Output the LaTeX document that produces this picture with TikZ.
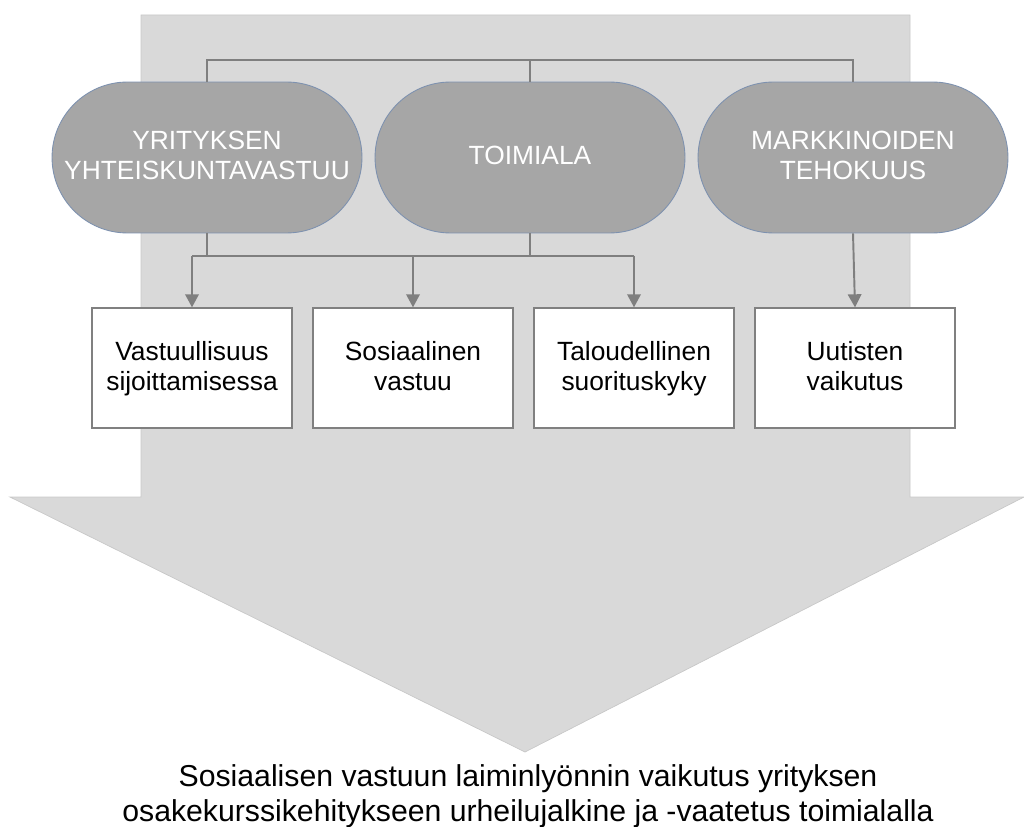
\documentclass[tikz,border=0pt]{standalone}
\usepackage{fontspec}
\setmainfont{Liberation Sans}
\usetikzlibrary{positioning, arrows.meta, shapes.misc}
\definecolor{bigarrowfill}{RGB}{217, 217, 217}
\definecolor{bigarrowedge}{RGB}{200, 200, 200}
\definecolor{topicfill}{RGB}{166, 166, 166}
\definecolor{topicedge}{RGB}{125, 145, 175}
\definecolor{linkcolor}{RGB}{127, 127, 127}
\definecolor{boxedge}{RGB}{128, 128, 128}
\newcommand{\rowstrut}{\rule[-3.2pt]{0pt}{14.6pt}}

\begin{document}
\begin{tikzpicture}[
    x=0.02cm, y=-0.02cm,
    topic/.style={rounded rectangle, draw=topicedge, fill=topicfill, line width=0.5pt,
        minimum width=6.2cm, minimum height=3.02cm, inner sep=0pt, align=center,
        text=white, font=\fontsize{15}{17}\selectfont},
    factor/.style={rectangle, draw=boxedge, fill=white, line width=0.8pt,
        minimum width=4.0cm, minimum height=2.4cm, inner sep=0pt, align=center,
        font=\fontsize{15}{17}\selectfont},
    link/.style={linkcolor, line width=1.1pt},
    arrow/.style={link, -{Triangle[width=0.27cm, length=0.26cm]}},
    caption/.style={align=center, font=\fontsize{17.2}{20}\selectfont},
]

\useasboundingbox (0,0) rectangle (1024,827);

% ======= BIG ARROW =======
\filldraw[fill=bigarrowfill, draw=bigarrowedge, line width=0.4pt]
    (141,15) -- (910,15) -- (910,497) -- (1024,497) -- (525,752)
    -- (10,497) -- (141,497) -- cycle;

% ======= TOPICS =======
\node[topic] (csr) at (207,157.5) {\rowstrut YRITYKSEN\\\rowstrut YHTEISKUNTAVASTUU};
\node[topic] (ind) at (530,157.5) {\rowstrut TOIMIALA};
\node[topic] (mkt) at (853,157.5) {\rowstrut MARKKINOIDEN\\\rowstrut TEHOKUUS};

% ======= FACTORS =======
\node[factor] (f1) at (192,368) {\rowstrut Vastuullisuus\\\rowstrut sijoittamisessa};
\node[factor] (f2) at (413,368) {\rowstrut Sosiaalinen\\\rowstrut vastuu};
\node[factor] (f3) at (634,368) {\rowstrut Taloudellinen\\\rowstrut suorituskyky};
\node[factor] (f4) at (855,368) {\rowstrut Uutisten\\\rowstrut vaikutus};

% ======= CONNECTIONS =======
% Top bus
\coordinate (top-bus) at (530,60);
\draw[link] (csr.north) |- (top-bus) -| (mkt.north);
\draw[link] (ind.north) -- (top-bus);

% Lower bus
\coordinate (low-bus) at (413,256);
\draw[link] (csr.south) -- (csr.south |- low-bus);
\draw[link] (ind.south) -- (ind.south |- low-bus);
\draw[link] (f1.north |- low-bus) -- (f3.north |- low-bus);
\foreach \i in {1,2,3} {
    \draw[arrow] (f\i.north |- low-bus) -- (f\i.north);
}
\draw[arrow] (mkt.south) -- (f4.north);

% ======= CAPTION =======
\node[caption] (goal) at (528,796) {Sosiaalisen vastuun laiminlyönnin vaikutus yrityksen\\osakekurssikehitykseen urheilujalkine ja -vaatetus toimialalla};

\end{tikzpicture}
\end{document}
